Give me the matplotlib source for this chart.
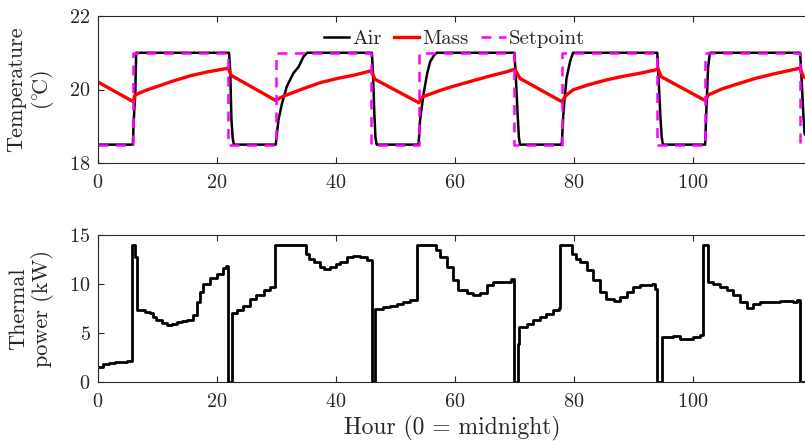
import numpy as np
import matplotlib
matplotlib.use("Agg")
import matplotlib.pyplot as plt

plt.rcParams['font.family'] = 'cmr10'
plt.rcParams['mathtext.fontset'] = 'cm'
plt.rcParams['axes.formatter.use_mathtext'] = True
plt.rcParams['axes.unicode_minus'] = False

# ---------------- data ----------------
sp_t = [0, 6, 22, 30, 46, 54, 70, 78, 94, 102, 118, 120]
sp_v = [18.5, 21, 18.5, 21, 18.5, 21, 18.5, 21, 18.5, 21, 18.5, 18.5]

air_t = [0, 5.95, 6.05, 6.2, 6.35, 6.5,
         22.1, 22.3, 22.5, 22.7, 22.9,
         29.95, 30.4, 31.0, 31.8, 32.9, 33.8, 34.6, 35.2,
         46.1, 46.3, 46.5, 46.7, 46.9,
         53.95, 54.2, 54.8, 55.4, 55.9, 56.5, 57.0,
         70.05, 70.3, 70.6, 70.8, 71.0,
         78.0, 78.3, 78.8, 79.4, 79.9,
         94.05, 94.3, 94.6, 94.8, 95.0,
         102.1, 102.3, 102.6, 102.9,
         118.05, 118.3, 118.6, 118.8, 120]
air_v = [18.5, 18.5, 19.0, 19.5, 19.9, 21.0,
         21.0, 20.5, 19.2, 18.7, 18.5,
         18.5, 19.17, 19.62, 20.08, 20.44, 20.62, 20.89, 21.0,
         21.0, 20.4, 19.4, 18.7, 18.5,
         18.5, 19.17, 19.9, 20.44, 20.76, 20.92, 21.0,
         21.0, 20.3, 19.3, 18.7, 18.5,
         18.5, 19.4, 20.3, 20.76, 21.0,
         21.0, 20.2, 19.2, 18.7, 18.5,
         18.5, 19.44, 20.62, 21.0,
         21.0, 20.3, 19.3, 18.8, 18.5]

mass_t = [0, 6.0, 6.3, 8.0, 10, 12.5, 15.5, 18.5, 22.0, 22.4, 29.95, 30.5, 31.9,
          34.7, 37.5, 40.3, 43.1, 46.0, 46.6, 54.0, 54.6, 57.5, 59.2, 63.1, 66.0,
          68.7, 70.1, 71.0, 78.0, 78.8, 79.9, 82.5, 85.5, 88.3, 91.1, 94.2, 94.7,
          102.1, 102.6, 105.0, 107.9, 110.5, 113.5, 118.0, 118.6, 120]
mass_v = [20.21, 19.67, 19.85, 19.97, 20.08, 20.22, 20.37, 20.48, 20.58, 20.39,
          19.70, 19.76, 19.86, 20.03, 20.19, 20.30, 20.39, 20.51, 20.28, 19.64,
          19.80, 19.97, 20.06, 20.24, 20.37, 20.48, 20.55, 20.30, 19.67, 19.85,
          19.99, 20.13, 20.26, 20.36, 20.44, 20.55, 20.35, 19.70, 19.85, 20.02,
          20.17, 20.30, 20.42, 20.58, 20.35, 20.25]

pw_t = [0, 1, 2, 3, 4, 5, 5.75, 6.3, 6.6, 8.0, 8.8, 9.4, 9.9, 10.8, 11.6, 12.5,
        13.3, 14.2, 15.0, 16.1, 16.7, 17.2, 17.8, 18.9, 20.0, 21.1, 21.6, 22.0,
        22.65, 23.5, 24.5, 25.6, 26.7, 27.9, 29.0, 29.8, 35.0, 35.6, 36.3, 37.4,
        38.0, 39.1, 40.0, 40.7, 41.9, 43.0, 44.1, 45.2, 46.1, 46.7, 48.0, 49.1,
        50.3, 51.4, 52.5, 53.6, 56.8, 57.5, 58.7, 59.8, 60.6, 62.0, 63.1, 64.3,
        65.4, 66.5, 67.6, 68.8, 69.5, 70.05, 70.7, 70.85, 72.1, 73.2, 74.3, 75.4,
        76.6, 77.6, 77.7, 79.8, 80.4, 81.1, 82.2, 83.3, 84.4, 85.5, 86.7, 87.8,
        88.9, 90.0, 91.2, 92.3, 93.1, 93.7, 94.05, 94.9, 95.6, 96.7, 97.9, 99.0,
        100.1, 101.2, 101.75, 102.6, 103.5, 104.6, 105.7, 106.8, 108.0, 109.1,
        110.2, 111.3, 112.5, 113.6, 114.7, 115.8, 116.9, 117.5, 118.05, 120]
pw_v = [1.5, 1.8, 1.95, 2.0, 2.05, 2.15, 14, 12.75, 7.3, 7.1, 7.0, 6.6, 6.3, 6.0,
        5.85, 5.95, 6.1, 6.2, 6.3, 6.8, 8.2, 9.2, 10.0, 10.65, 11.05, 11.6, 11.8,
        0, 7.0, 7.3, 7.8, 8.5, 8.85, 9.36, 9.7, 14, 13.1, 12.6, 12.25, 11.7, 11.5,
        11.7, 12.0, 12.25, 12.75, 12.9, 12.75, 12.5, 0, 7.5, 7.7, 7.8, 8.0, 8.2,
        8.4, 14, 13.5, 12.75, 11.7, 10.4, 9.4, 9.1, 8.85, 9.1, 9.9, 10.2, 10.2,
        10.2, 10.55, 0, 3.9, 5.6, 5.95, 6.3, 6.6, 6.9, 7.3, 7.6, 14, 13.1, 12.6,
        12.25, 11.4, 10.4, 9.2, 8.5, 8.3, 8.7, 9.2, 9.7, 9.9, 9.9, 10.0, 9.5, 0,
        4.6, 4.6, 4.7, 4.4, 4.4, 4.6, 4.75, 14, 10.2, 10.0, 9.7, 9.36, 8.85, 8.2,
        7.6, 8.0, 8.15, 8.15, 8.15, 8.3, 8.25, 8.15, 8.4, 0, 0]

temp_ticks = [18, 20, 22]
power_ticks = [0, 5, 10, 15]
hour_ticks = [0, 20, 40, 60, 80, 100]

# ---------------- figure ----------------
W, H = 805, 441
fig = plt.figure(figsize=(W / 100, H / 100), dpi=100)
gray = (0.15, 0.15, 0.15)

def px_axes(left, top, right, bottom):
    return fig.add_axes([left / W, 1 - bottom / H, (right - left) / W, (bottom - top) / H])

ax1 = px_axes(97.5, 16, 811.7, 163)
ax2 = px_axes(97.5, 235, 811.7, 382)

for ax in (ax1, ax2):
    for s in ax.spines.values():
        s.set_color(gray)
        s.set_linewidth(0.8)
    ax.tick_params(direction='in', length=4, width=0.8, colors=gray,
                   labelsize=14.5, top=True, right=True)
    ax.tick_params(axis='x', pad=8)
    ax.tick_params(axis='y', pad=5)
    ax.set_xlim(0, 120)
    ax.set_xticks(hour_ticks)

ax1.plot(air_t, air_v, color='black', lw=1.8, label='Air')
ax1.plot(mass_t, mass_v, color='red', lw=2.4, label='Mass')
ax1.plot(sp_t, sp_v, color=(1, 0, 1), lw=1.8, dashes=(4, 3),
         drawstyle='steps-post', label='Setpoint')
ax1.set_ylim(18, 22)
ax1.set_yticks(temp_ticks)
leg = ax1.legend(loc='upper center', bbox_to_anchor=(0.5, 1.0), ncol=3,
                 frameon=False, fontsize=15, handlelength=1.2,
                 handletextpad=0.15, columnspacing=0.6, borderaxespad=0.25)
for t in leg.get_texts():
    t.set_color(gray)

ax2.plot(pw_t, pw_v, color='black', lw=2.0, drawstyle='steps-post')
ax2.set_ylim(0, 15)
ax2.set_yticks(power_ticks)

fig.text(31 / W, 1 - 89.5 / H, 'Temperature\n(${}^{\\circ}\\!$C)', rotation=90,
         ha='center', va='center', multialignment='center', fontsize=16, color=gray,
         linespacing=1.15)
fig.text(31 / W, 1 - 308.5 / H, 'Thermal\npower (kW)', rotation=90,
         ha='center', va='center', multialignment='center', fontsize=16, color=gray,
         linespacing=1.15)
fig.text(452.5 / W, 1 - 428 / H, 'Hour (0 = midnight)', ha='center', va='center',
         fontsize=17, color=gray)

fig.savefig('out.png', dpi=100)
